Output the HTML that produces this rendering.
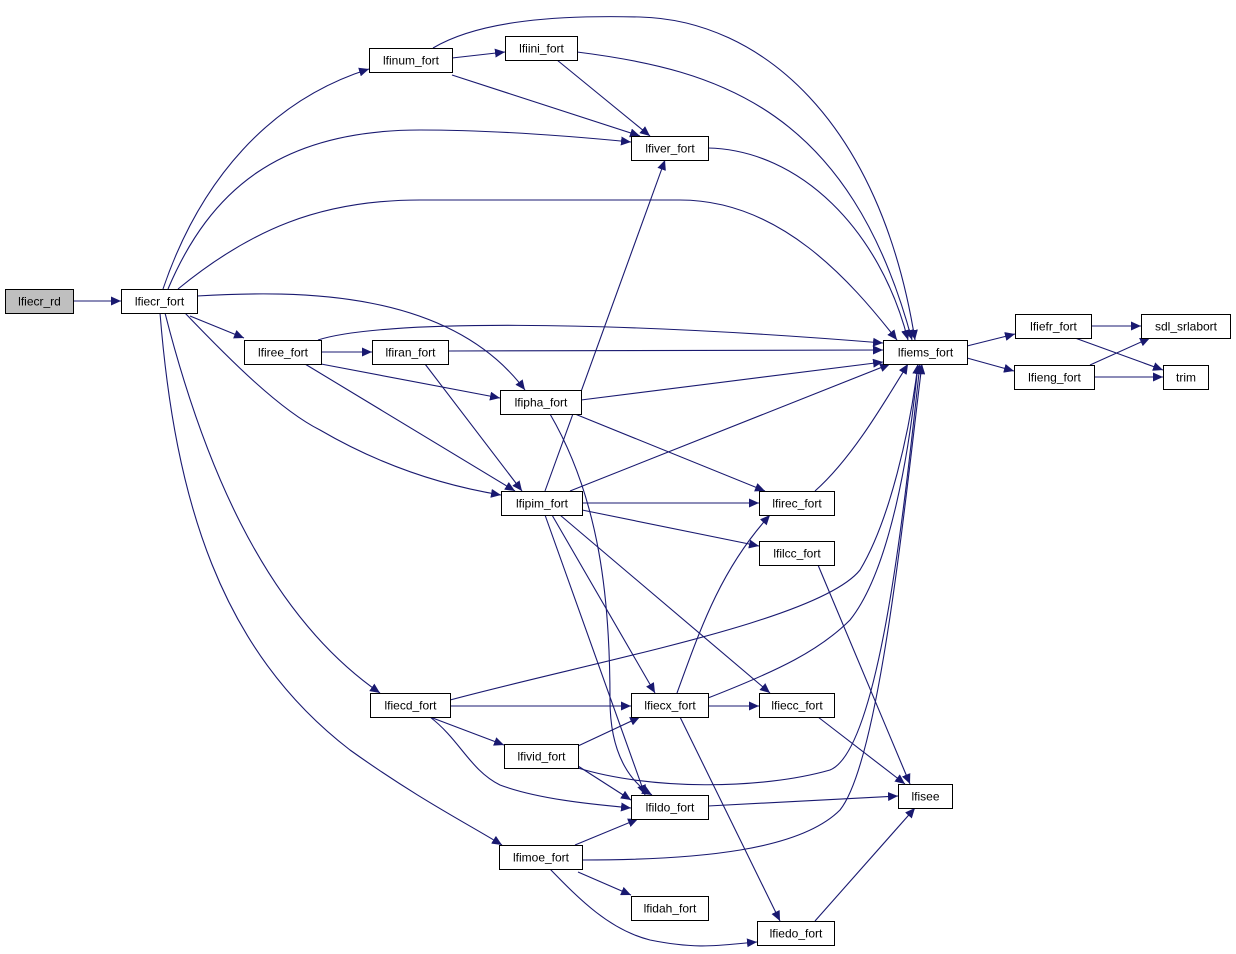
<!DOCTYPE html>
<html><head><meta charset="utf-8"><style>
html,body{margin:0;padding:0;background:#fff;}
svg{display:block;}
text{font-family:"Liberation Sans",sans-serif;font-size:12px;fill:#000;}
</style></head><body>
<svg width="1236" height="954" viewBox="0 0 1236 954" xmlns="http://www.w3.org/2000/svg">
<defs>
<marker id="a" markerWidth="11" markerHeight="9" refX="10" refY="4.5" orient="auto" markerUnits="userSpaceOnUse">
<polygon points="0,0 10,4.5 0,9" fill="#191970"/>
</marker>
</defs>
<g fill="none" stroke="#191970" stroke-width="1.1" marker-end="url(#a)">
<path d="M73,301 L121,301"/>
<path d="M163,289 C200,180 270,100 369,69"/>
<path d="M168,289 C210,190 280,130 420,130 C500,130 580,137 631,142"/>
<path d="M178,289 C250,230 320,200 420,200 L680,200 C780,200 850,280 897,340"/>
<path d="M197,296 C300,290 450,290 525,390"/>
<path d="M190,316 L244,338"/>
<path d="M185,313 C230,360 280,410 320,430 C380,465 440,485 501,495"/>
<path d="M165,313 C200,450 260,610 380,693"/>
<path d="M160,313 C175,500 220,650 350,750 C420,800 470,825 502,845"/>
<path d="M452,58 L505,52"/>
<path d="M452,75 L640,136"/>
<path d="M433,48 C480,20 560,15 640,17 C760,20 880,120 915,340"/>
<path d="M577,52 C720,70 850,110 912,340"/>
<path d="M557,60 L650,136"/>
<path d="M708,148 C800,150 880,230 908,340"/>
<path d="M321,352 L372,352"/>
<path d="M318,340 C380,320 600,320 883,343"/>
<path d="M321,364 L500,398"/>
<path d="M305,364 L515,491"/>
<path d="M448,351 L883,350"/>
<path d="M425,364 L522,491"/>
<path d="M581,400 L883,362"/>
<path d="M575,414 L765,491"/>
<path d="M550,414 C600,500 610,600 610,700 C610,760 635,785 652,795"/>
<path d="M545,491 L665,160"/>
<path d="M570,491 L890,364"/>
<path d="M582,503 L759,503"/>
<path d="M582,510 L759,546"/>
<path d="M552,515 L655,693"/>
<path d="M560,515 L770,693"/>
<path d="M545,515 L645,795"/>
<path d="M815,491 C850,460 880,410 908,364"/>
<path d="M818,565 L910,784"/>
<path d="M450,700 C600,660 820,620 860,570 C890,520 910,430 918,364"/>
<path d="M450,706 L631,706"/>
<path d="M430,717 L504,745"/>
<path d="M430,717 C460,740 470,770 500,785 C540,800 600,805 631,808"/>
<path d="M677,693 C700,630 720,570 770,515"/>
<path d="M708,698 C780,670 820,650 850,620 C890,570 910,450 918,364"/>
<path d="M708,706 L759,706"/>
<path d="M680,717 L780,921"/>
<path d="M818,717 L905,784"/>
<path d="M578,746 L640,717"/>
<path d="M578,768 C650,790 760,790 830,770 C880,750 905,500 920,364"/>
<path d="M578,766 L631,800"/>
<path d="M708,806 L898,796"/>
<path d="M575,845 L638,819"/>
<path d="M582,860 C700,860 800,850 840,810 C880,760 905,500 922,364"/>
<path d="M578,872 L631,895"/>
<path d="M550,869 C580,900 610,930 650,940 C700,950 720,945 757,942"/>
<path d="M815,921 L915,808"/>
<path d="M967,346 L1015,334"/>
<path d="M967,358 L1014,371"/>
<path d="M1091,326 L1141,326"/>
<path d="M1075,338 L1163,370"/>
<path d="M1090,365 L1150,338"/>
<path d="M1094,377 L1163,377"/>
</g>
<g stroke="#000" stroke-width="1" fill="#fff">
<rect x="5.5" y="289.5" width="68" height="24" fill="#bfbfbf"/>
<rect x="121.5" y="289.5" width="76" height="24"/>
<rect x="369.5" y="48.5" width="83" height="24"/>
<rect x="505.5" y="36.5" width="72" height="24"/>
<rect x="631.5" y="136.5" width="77" height="24"/>
<rect x="244.5" y="340.5" width="77" height="24"/>
<rect x="372.5" y="340.5" width="76" height="24"/>
<rect x="500.5" y="390.5" width="81" height="24"/>
<rect x="883.5" y="340.5" width="84" height="24"/>
<rect x="1015.5" y="314.5" width="76" height="24"/>
<rect x="1014.5" y="365.5" width="80" height="24"/>
<rect x="1141.5" y="314.5" width="89" height="24"/>
<rect x="1163.5" y="365.5" width="45" height="24"/>
<rect x="501.5" y="491.5" width="81" height="24"/>
<rect x="759.5" y="491.5" width="75" height="24"/>
<rect x="759.5" y="541.5" width="75" height="24"/>
<rect x="370.5" y="693.5" width="80" height="24"/>
<rect x="631.5" y="693.5" width="77" height="24"/>
<rect x="759.5" y="693.5" width="75" height="24"/>
<rect x="504.5" y="744.5" width="74" height="24"/>
<rect x="631.5" y="795.5" width="77" height="24"/>
<rect x="898.5" y="784.5" width="54" height="24"/>
<rect x="499.5" y="845.5" width="83" height="24"/>
<rect x="631.5" y="896.5" width="77" height="24"/>
<rect x="757.5" y="921.5" width="77" height="24"/>
</g>
<g text-anchor="middle">
<text x="39.5" y="305.5">lfiecr_rd</text>
<text x="159.5" y="305.5">lfiecr_fort</text>
<text x="411" y="64.5">lfinum_fort</text>
<text x="541.5" y="52.5">lfiini_fort</text>
<text x="670" y="152.5">lfiver_fort</text>
<text x="283" y="356.5">lfiree_fort</text>
<text x="410.5" y="356.5">lfiran_fort</text>
<text x="541" y="406.5">lfipha_fort</text>
<text x="925.5" y="356.5">lfiems_fort</text>
<text x="1053.5" y="330.5">lfiefr_fort</text>
<text x="1054.5" y="381.5">lfieng_fort</text>
<text x="1186" y="330.5">sdl_srlabort</text>
<text x="1186" y="381.5">trim</text>
<text x="542" y="507.5">lfipim_fort</text>
<text x="797" y="507.5">lfirec_fort</text>
<text x="797" y="557.5">lfilcc_fort</text>
<text x="410.5" y="709.5">lfiecd_fort</text>
<text x="670" y="709.5">lfiecx_fort</text>
<text x="797" y="709.5">lfiecc_fort</text>
<text x="541.5" y="760.5">lfivid_fort</text>
<text x="670" y="811.5">lfildo_fort</text>
<text x="925.5" y="800.5">lfisee</text>
<text x="541" y="861.5">lfimoe_fort</text>
<text x="670" y="912.5">lfidah_fort</text>
<text x="796" y="937.5">lfiedo_fort</text>
</g>
</svg>
</body></html>
